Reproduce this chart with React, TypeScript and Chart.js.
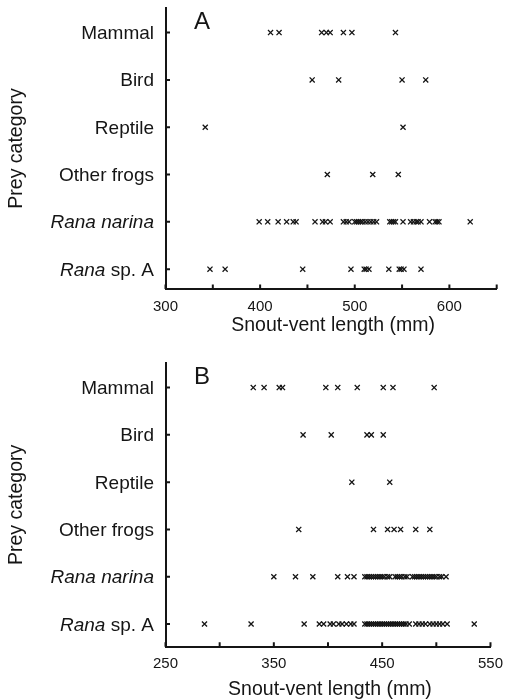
import React, { useEffect, useRef } from 'react';
import { Chart, registerables } from 'chart.js';

Chart.register(...registerables);

// Categories, bottom to top (y = 1 .. 6)
const CATEGORIES = ['Rana sp. A', 'Rana narina', 'Other frogs', 'Reptile', 'Bird', 'Mammal'];
const ITALIC_WORDS = ['Rana', 'narina'];
const Y_TITLE = 'Prey category';
const X_TITLE = 'Snout-vent length (mm)';

// Panel A values (snout-vent length, mm)
const A_RANA_A = [347, 363, 445, 496, 510, 512, 515, 536, 547, 549, 552, 570];
const A_RANA_NARINA = [399, 408, 419, 428, 435, 438, 458, 466, 469, 474, 488, 491, 494, 500, 502, 504, 506, 508, 511, 514, 517, 520, 523, 537, 539, 541, 543, 551, 559, 562, 565, 567, 570, 579, 585, 587, 589, 622];
const A_OTHER_FROGS = [471, 519, 546];
const A_REPTILE = [342, 551];
const A_BIRD = [455, 483, 550, 575];
const A_MAMMAL = [411, 420, 465, 470, 474, 488, 497, 543];
const A_TICK_LABELS = [300, 400, 500, 600];

// Panel B values
const B_RANA_A = [286, 329, 378, 392, 396, 402, 405, 410, 413, 417, 421, 424, 434, 436, 438, 440, 442, 444, 446, 448, 450, 452, 454, 456, 458, 460, 462, 464, 466, 468, 470, 472, 475, 481, 484, 487, 490, 494, 497, 500, 503, 506, 510, 535];
const B_RANA_NARINA = [350, 370, 386, 409, 418, 424, 434, 436, 438, 440, 442, 444, 446, 448, 450, 452, 455, 457, 462, 464, 466, 468, 471, 473, 478, 480, 482, 484, 486, 488, 490, 492, 494, 496, 498, 500, 503, 505, 509];
const B_OTHER_FROGS = [373, 442, 455, 461, 467, 481, 494];
const B_REPTILE = [422, 457];
const B_BIRD = [377, 403, 436, 440, 451];
const B_MAMMAL = [331, 341, 355, 358, 398, 409, 427, 451, 460, 498];
const B_TICK_LABELS = [250, 350, 450, 550];

const FONT = '"Liberation Sans", Arial, Helvetica, sans-serif';
const INK = '#151515';

type Panel = {
  letter: string;
  rows: number[][];
  xMin: number;
  xMax: number;
  tickLabels: number[];
  top: number;
  height: number;
  padTop: number;
  yMin: number;
  yMax: number;
  xAxisHeight: number;
  labelPad: number;
  titleY: number;
};

const PANELS: Panel[] = [
  {
    letter: 'A',
    rows: [A_RANA_A, A_RANA_NARINA, A_OTHER_FROGS, A_REPTILE, A_BIRD, A_MAMMAL],
    xMin: 300, xMax: 650, tickLabels: A_TICK_LABELS,
    top: 0, height: 345, padTop: 8, yMin: 0.58, yMax: 6.52,
    xAxisHeight: 56, labelPad: 9, titleY: 326,
  },
  {
    letter: 'B',
    rows: [B_RANA_A, B_RANA_NARINA, B_OTHER_FROGS, B_REPTILE, B_BIRD, B_MAMMAL],
    xMin: 250, xMax: 550, tickLabels: B_TICK_LABELS,
    top: 350, height: 349, padTop: 13, yMin: 0.52, yMax: 6.52,
    xAxisHeight: 52.3, labelPad: 8, titleY: 340,
  },
];

function segments(label: string) {
  return label.split(/(\s+)/).filter((s) => s.length).map((t) => ({ text: t, italic: ITALIC_WORDS.includes(t) }));
}

function makeTextPlugin(panel: Panel) {
  return {
    id: 'panelText' + panel.letter,
    afterDraw(chart: any) {
      const ctx = chart.ctx as CanvasRenderingContext2D;
      const ca = chart.chartArea;
      const yScale = chart.scales.y;
      const xScale = chart.scales.x;
      ctx.save();
      // inward tick marks
      ctx.strokeStyle = INK;
      ctx.lineWidth = 2;
      ctx.beginPath();
      xScale.ticks.forEach((t: any) => {
        const px = xScale.getPixelForValue(t.value);
        ctx.moveTo(px, ca.bottom);
        ctx.lineTo(px, ca.bottom - 4.5);
      });
      yScale.ticks.forEach((t: any) => {
        const py = yScale.getPixelForValue(t.value);
        ctx.moveTo(ca.left, py);
        ctx.lineTo(ca.left + 4.5, py);
      });
      ctx.stroke();

      ctx.fillStyle = INK;
      ctx.textBaseline = 'alphabetic';
      ctx.textAlign = 'left';
      // y category labels with mixed italics
      CATEGORIES.forEach((cat, i) => {
        const py = yScale.getPixelForValue(i + 1) + 6.5;
        const segs = segments(cat);
        const widths = segs.map((s) => {
          ctx.font = `${s.italic ? 'italic ' : ''}19px ${FONT}`;
          return ctx.measureText(s.text).width;
        });
        const total = widths.reduce((a, b) => a + b, 0);
        let x = ca.left - 11.5 - total;
        segs.forEach((s, k) => {
          ctx.font = `${s.italic ? 'italic ' : ''}19px ${FONT}`;
          ctx.fillText(s.text, x, py);
          x += widths[k];
        });
      });
      // y title (rotated)
      ctx.save();
      ctx.font = `19.5px ${FONT}`;
      ctx.textAlign = 'center';
      ctx.textBaseline = 'middle';
      ctx.translate(17, (ca.top + ca.bottom) / 2);
      ctx.rotate(-Math.PI / 2);
      ctx.fillText(Y_TITLE, 0, 0);
      ctx.restore();
      // x title
      ctx.font = `19.5px ${FONT}`;
      ctx.textAlign = 'center';
      ctx.textBaseline = 'middle';
      ctx.fillText(X_TITLE, (ca.left + ca.right) / 2 + 2, panel.titleY);
      // panel letter
      ctx.font = `24px ${FONT}`;
      ctx.textAlign = 'left';
      ctx.textBaseline = 'alphabetic';
      ctx.fillText(panel.letter, ca.left + 28.5, ca.top + 20.5);
      ctx.restore();
    },
  };
}

function PanelChart({ panel }: { panel: Panel }) {
  const ref = useRef<HTMLCanvasElement | null>(null);
  useEffect(() => {
    if (!ref.current) return;
    const data = panel.rows.flatMap((vals, i) => vals.map((v) => ({ x: v, y: i + 1 })));
    const chart = new Chart(ref.current, {
      type: 'scatter',
      data: {
        datasets: [
          {
            data,
            pointStyle: 'crossRot',
            pointRadius: 3.6,
            pointBorderWidth: 1.3,
            borderColor: INK,
            backgroundColor: INK,
          },
        ],
      },
      plugins: [makeTextPlugin(panel)],
      options: {
        animation: false,
        responsive: false,
        devicePixelRatio: 1,
        layout: { padding: { top: panel.padTop, right: 14.3, left: 0, bottom: 0 } },
        plugins: { legend: { display: false }, tooltip: { enabled: false } },
        scales: {
          x: {
            type: 'linear',
            position: 'bottom',
            min: panel.xMin,
            max: panel.xMax,
            afterFit: (s: any) => { s.height = panel.xAxisHeight; },
            ticks: {
              stepSize: 50,
              autoSkip: false,
              maxRotation: 0,
              padding: panel.labelPad,
              color: INK,
              font: { family: FONT, size: 15 },
              callback: (v: any) => (panel.tickLabels.includes(Number(v)) ? String(v) : ''),
            },
            border: { display: true, color: INK, width: 2 },
            grid: { drawOnChartArea: false, drawTicks: false },
          },
          y: {
            type: 'linear',
            min: panel.yMin,
            max: panel.yMax,
            afterFit: (s: any) => { s.width = 165.5; },
            afterBuildTicks: (s: any) => { s.ticks = CATEGORIES.map((_, i) => ({ value: i + 1 })); },
            ticks: { display: false },
            border: { display: true, color: INK, width: 2 },
            grid: { drawOnChartArea: false, drawTicks: false },
          },
        },
      },
    });
    return () => chart.destroy();
  }, [panel]);
  return (
    <canvas
      ref={ref}
      width={511}
      height={panel.height}
      style={{ position: 'absolute', left: 0, top: panel.top, width: 511, height: panel.height, display: 'block' }}
    />
  );
}

export default function App() {
  useEffect(() => {
    document.body.style.margin = '0';
    document.body.style.background = '#ffffff';
  }, []);
  return (
    <div style={{ position: 'relative', width: 511, height: 699, background: '#ffffff' }}>
      {PANELS.map((p) => (
        <PanelChart key={p.letter} panel={p} />
      ))}
    </div>
  );
}
